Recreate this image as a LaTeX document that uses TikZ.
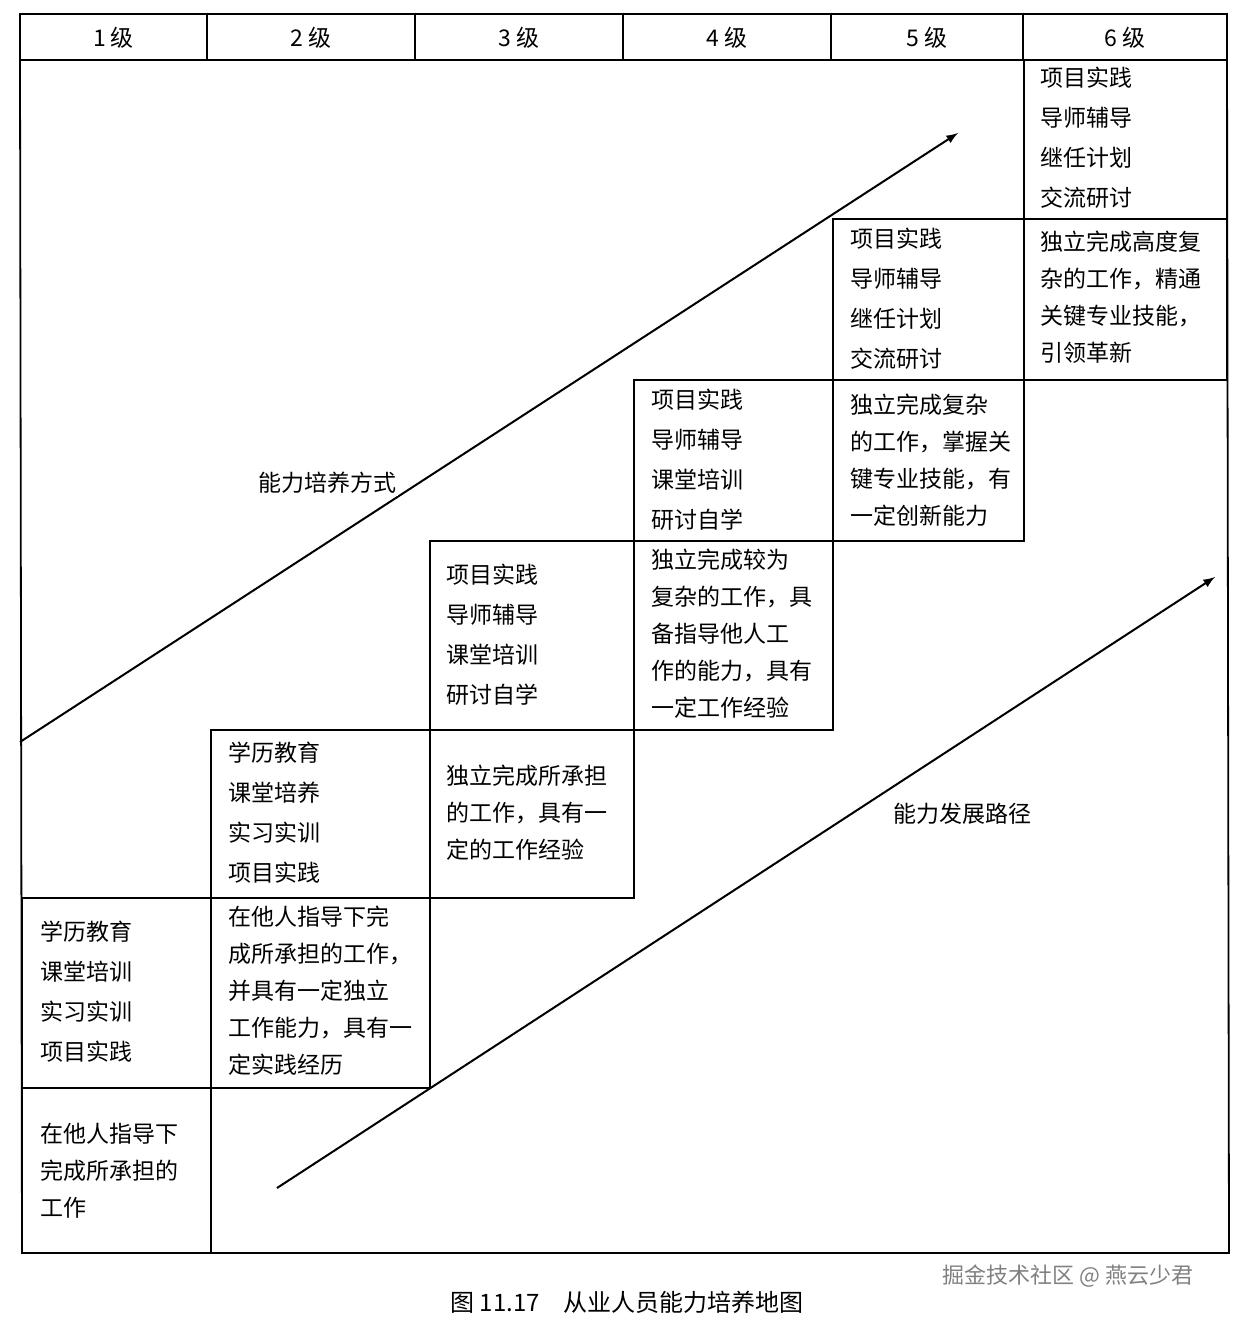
\documentclass[tikz,border=0pt]{standalone}
\usepackage{fontspec}
\setmainfont{Noto Sans CJK SC}
\begin{document}
\begin{tikzpicture}[x=0.5pt,y=-0.5pt,
 ln/.style={line width=0.9pt},
 up/.style={anchor=north west,align=left,inner sep=0pt,font=\fontsize{11.5}{20}\selectfont},
 lo/.style={anchor=north west,align=left,inner sep=0pt,font=\fontsize{11.5}{18.5}\selectfont},
 hd/.style={font=\fontsize{11.5}{14}\selectfont},
 arr/.style={line width=1pt,-latex}]
\useasboundingbox (0,0) rectangle (1244,1322);
% header
\draw[ln] (20,14) rectangle (1227,60);
\foreach \x in {207,415,623,831,1023} \draw[ln] (\x,14)--(\x,60);
\foreach \a/\b/\t in {20/207/1,207/415/2,415/623/3,623/831/4,831/1023/5,1023/1227/6}
  \node[hd] (h\t) at ({(\a+\b)/2},38) {\t\ 级};
% outer frame
\draw[ln] (20,60)--(22,1253)--(1229,1253)--(1227,60);
% boxes
\draw[ln] (22,1088) rectangle (211,1253);
\draw[ln] (22,898) rectangle (211,1088);
\draw[ln] (211,898) rectangle (430,1088);
\draw[ln] (211,730) rectangle (430,898);
\draw[ln] (430,730) rectangle (634,898);
\draw[ln] (430,541) rectangle (634,730);
\draw[ln] (634,541) rectangle (833,730);
\draw[ln] (634,380) rectangle (833,541);
\draw[ln] (833,380) rectangle (1024,541);
\draw[ln] (833,219) rectangle (1024,380);
\draw[ln] (1024,219) rectangle (1227,380);
\draw[ln] (1024,60) rectangle (1227,219);
% upper texts
\node[up] (u6) at (1040,67) {项目实践\\导师辅导\\继任计划\\交流研讨};
\node[up] (u5) at (850,228) {项目实践\\导师辅导\\继任计划\\交流研讨};
\node[up] (u4) at (651,389) {项目实践\\导师辅导\\课堂培训\\研讨自学};
\node[up] (u3) at (446,564) {项目实践\\导师辅导\\课堂培训\\研讨自学};
\node[up] (u2) at (228,742) {学历教育\\课堂培养\\实习实训\\项目实践};
\node[up] (u1) at (40,921) {学历教育\\课堂培训\\实习实训\\项目实践};
% lower texts
\node[lo] (l6) at (1040,231) {独立完成高度复\\杂的工作，精通\\关键专业技能，\\引领革新};
\node[lo] (l5) at (850,394) {独立完成复杂\\的工作，掌握关\\键专业技能，有\\一定创新能力};
\node[lo] (l4) at (651,549) {独立完成较为\\复杂的工作，具\\备指导他人工\\作的能力，具有\\一定工作经验};
\node[lo] (l3) at (446,765) {独立完成所承担\\的工作，具有一\\定的工作经验};
\node[lo] (l2) at (228,906) {在他人指导下完\\成所承担的工作，\\并具有一定独立\\工作能力，具有一\\定实践经历};
\node[lo] (l1) at (40,1123) {在他人指导下\\完成所承担的\\工作};
% arrows
\coordinate (a1) at (20,742); \coordinate (a2) at (958,133);
\coordinate (b1) at (277,1188); \coordinate (b2) at (1215,577);
\draw[arr] (a1)--(a2);
\draw[arr] (b1)--(b2);
\node[hd,fill=white,inner sep=1pt] (t1) at (327,483) {能力培养方式};
\node[hd] (t2) at (962,814) {能力发展路径};
% caption
\node[font=\fontsize{12}{14}\selectfont] (cap) at (627,1302) {图 11.17\quad 从业人员能力培养地图};
\node[font=\fontsize{11}{14}\selectfont,text=gray] (wm) at (1068,1276) {掘金技术社区 @ 燕云少君};
\end{tikzpicture}
\end{document}
